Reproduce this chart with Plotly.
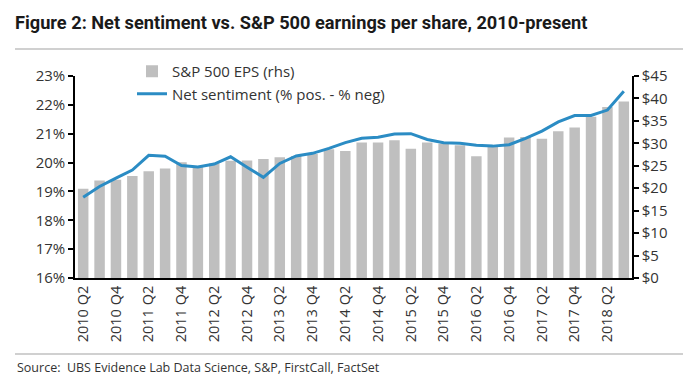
import plotly.graph_objects as go

quarters = ["2010 Q2", "2010 Q3", "2010 Q4", "2011 Q1", "2011 Q2", "2011 Q3", "2011 Q4",
            "2012 Q1", "2012 Q2", "2012 Q3", "2012 Q4", "2013 Q1", "2013 Q2", "2013 Q3",
            "2013 Q4", "2014 Q1", "2014 Q2", "2014 Q3", "2014 Q4", "2015 Q1", "2015 Q2",
            "2015 Q3", "2015 Q4", "2016 Q1", "2016 Q2", "2016 Q3", "2016 Q4", "2017 Q1",
            "2017 Q2", "2017 Q3", "2017 Q4", "2018 Q1", "2018 Q2", "2018 Q3"]

eps = [19.9, 21.7, 21.9, 22.7, 23.8, 24.4, 25.8, 24.8, 25.5, 26.1, 26.2, 26.5,
       26.9, 27.2, 27.6, 28.7, 28.3, 30.2, 30.2, 30.7, 28.8, 30.2, 29.9, 29.6,
       27.1, 29.3, 31.3, 31.4, 31.0, 32.7, 33.5, 35.9, 38.1, 39.3]

net_sentiment = [18.80, 19.17, 19.46, 19.74, 20.25, 20.22, 19.90, 19.85, 19.95, 20.20,
                 19.84, 19.49, 19.97, 20.23, 20.32, 20.49, 20.69, 20.84, 20.88, 20.99,
                 21.00, 20.80, 20.69, 20.67, 20.60, 20.57, 20.62, 20.84, 21.09, 21.41,
                 21.63, 21.63, 21.82, 22.47]

x_tick_labels = quarters[::2]
left_ticks = [16, 17, 18, 19, 20, 21, 22, 23]
right_ticks = [0, 5, 10, 15, 20, 25, 30, 35, 40, 45]

FONT = "Open Sans, Noto Sans, sans-serif"
OFF = 8  # page body margin in the browser
W, H = 700 - OFF, 376 - OFF
L, R, T, B = 75 - OFF, 68, 76 - OFF, 98
pw = W - L - R
ph = H - T - B

def px_x(x):
    return (x - OFF - L) / pw

def px_y(y):
    return (H - B - (y - OFF)) / ph

fig = go.Figure()
fig.add_trace(go.Bar(
    x=quarters, y=eps, name="S&P 500 EPS (rhs)",
    marker=dict(color="#BFBFBF", line=dict(width=0)),
    yaxis="y",
))
fig.add_trace(go.Scatter(
    x=quarters, y=net_sentiment, name="Net sentiment (% pos. - % neg)",
    mode="lines", line=dict(color="#2B8CC4", width=3),
    yaxis="y2",
))

fig.update_layout(
    width=W, height=H,
    margin=dict(l=L, r=R, t=T, b=B),
    paper_bgcolor="white", plot_bgcolor="white",
    bargap=0.36,
    font=dict(family=FONT, color="#333333"),
    title=dict(
        text="<b>Figure 2: Net sentiment vs. S&P 500 earnings per share, 2010-present</b>",
        font=dict(family="Liberation Sans Narrow, Roboto, sans-serif", size=18.2, color="#1a1a1a"),
        xref="container", yref="container", x=(15 - OFF) / W, xanchor="left",
        y=1 - (23 - OFF) / H, yanchor="middle",
    ),
    xaxis=dict(
        type="category", tickmode="array", tickvals=x_tick_labels, ticktext=x_tick_labels,
        tickangle=-90, tickfont=dict(size=14.5, color="#333333"),
        showline=True, linecolor="black", linewidth=2, ticks="", showgrid=False,
        range=[-0.5, len(quarters) - 0.5],
    ),
    yaxis=dict(
        side="right", range=[0, 45], tickvals=right_ticks,
        ticktext=["$%d" % v for v in right_ticks],
        tickfont=dict(size=15, color="#333333"),
        showline=True, linecolor="black", linewidth=1.5,
        ticks="outside", ticklen=5, tickcolor="black", tickwidth=1.5,
        showgrid=False, zeroline=False,
    ),
    yaxis2=dict(
        overlaying="y", side="left", range=[16, 23], tickvals=left_ticks,
        ticktext=["%d%%" % v for v in left_ticks],
        tickfont=dict(size=15, color="#333333"),
        showline=True, linecolor="black", linewidth=1.5,
        ticks="outside", ticklen=5, tickcolor="black", tickwidth=1.5,
        showgrid=False, zeroline=False,
    ),
    legend=dict(
        x=px_x(132), y=px_y(55), xanchor="left", yanchor="top",
        font=dict(size=15, color="#333333"), bgcolor="rgba(0,0,0,0)",
        traceorder="normal", tracegroupgap=0, itemwidth=30,
    ),
    showlegend=True,
    shapes=[
        dict(type="line", xref="paper", yref="paper", x0=px_x(15), x1=px_x(683),
             y0=px_y(49), y1=px_y(49), line=dict(color="#D0D0D0", width=2)),
        dict(type="line", xref="paper", yref="paper", x0=px_x(15), x1=px_x(683),
             y0=px_y(354), y1=px_y(354), line=dict(color="#D0D0D0", width=2)),
    ],
    annotations=[
        dict(text="Source:  UBS Evidence Lab Data Science, S&P, FirstCall, FactSet",
             xref="paper", yref="paper", x=px_x(15), y=px_y(367),
             xanchor="left", yanchor="middle", showarrow=False,
             font=dict(size=12.5, color="#333333")),
    ],
)

fig.write_html("out.html")
